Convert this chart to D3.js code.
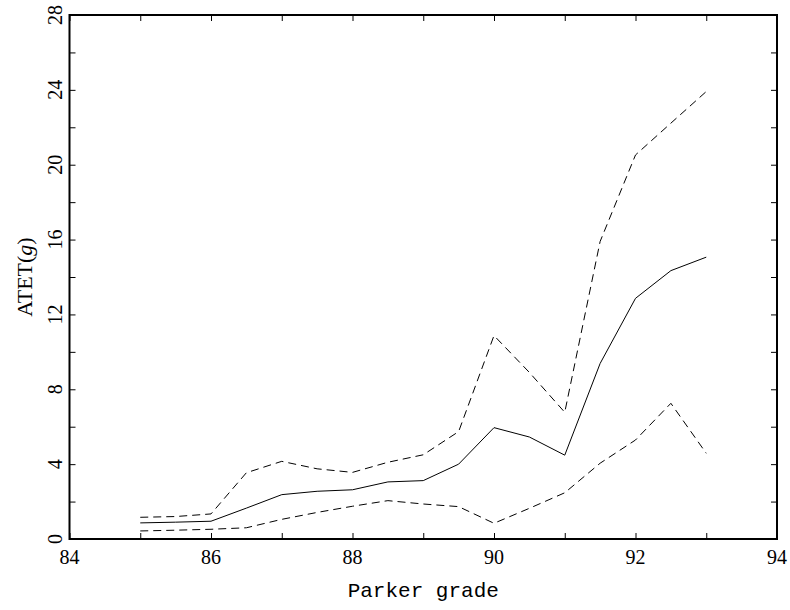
<!DOCTYPE html>
<html>
<head>
<meta charset="utf-8">
<script src="https://cdn.jsdelivr.net/npm/d3@7"></script>
<style>
  html, body { margin: 0; padding: 0; background: #fff; }
  svg { display: block; }
</style>
</head>
<body>
<svg id="chart" width="790" height="610"></svg>
<script>
// ---- data ----
const grades = [85, 85.5, 86, 86.5, 87, 87.5, 88, 88.5, 89, 89.5, 90, 90.5, 91, 91.5, 92, 92.5, 93];
const atet   = [0.86, 0.9, 0.95, 1.65, 2.37, 2.55, 2.63, 3.05, 3.12, 4.0, 5.95, 5.45, 4.48, 9.38, 12.86, 14.34, 15.06];
const upper  = [1.16, 1.2, 1.34, 3.54, 4.15, 3.75, 3.56, 4.1, 4.5, 5.74, 10.87, 8.9, 6.77, 15.9, 20.52, 22.22, 23.91];
const lower  = [0.43, 0.47, 0.52, 0.6, 1.05, 1.42, 1.75, 2.05, 1.87, 1.73, 0.84, 1.64, 2.47, 4.05, 5.29, 7.25, 4.58];
const xTickLabels = [84, 86, 88, 90, 92, 94];
const yTickLabels = [0, 4, 8, 12, 16, 20, 24, 28];
const xLabel = "Parker grade";
const yLabelMain = "ATET(";
const yLabelItal = "g";
const yLabelEnd = ")";

// ---- layout ----
const svg = d3.select("#chart");
const L = 69.5, R = 777, T = 15, B = 539;
const x = d3.scaleLinear().domain([84, 94]).range([L, R]);
const y = d3.scaleLinear().domain([0, 28]).range([B, T]);
const font = "'Liberation Serif', 'DejaVu Serif', serif";

// lines
const line = (vals) => d3.line().x((d, i) => x(grades[i])).y(d => y(d))(vals);
svg.append("path").attr("d", line(upper)).attr("fill", "none")
  .attr("stroke", "#000").attr("stroke-width", 1).attr("stroke-dasharray", "8,5");
svg.append("path").attr("d", line(lower)).attr("fill", "none")
  .attr("stroke", "#000").attr("stroke-width", 1).attr("stroke-dasharray", "8,5");
svg.append("path").attr("d", line(atet)).attr("fill", "none")
  .attr("stroke", "#000").attr("stroke-width", 1);

// axes (ticks inward)
const xMinor = d3.range(84, 95, 1);
const yMinor = d3.range(0, 29, 2);

const gBottom = svg.append("g").attr("transform", `translate(0,${B})`)
  .call(d3.axisTop(x).tickValues(xMinor).tickSize(6).tickFormat(""));
const gTop = svg.append("g").attr("transform", `translate(0,${T})`)
  .call(d3.axisBottom(x).tickValues(xMinor).tickSize(6).tickFormat(""));
const gLeft = svg.append("g").attr("transform", `translate(${L},0)`)
  .call(d3.axisRight(y).tickValues(yMinor).tickSize(6).tickFormat(""));
const gRight = svg.append("g").attr("transform", `translate(${R},0)`)
  .call(d3.axisLeft(y).tickValues(yMinor).tickSize(6).tickFormat(""));
[gBottom, gTop, gLeft, gRight].forEach(g => {
  g.select(".domain").remove();
  g.selectAll(".tick line").attr("stroke", "#000").attr("stroke-width", 1);
});

// frame
svg.append("rect").attr("x", L).attr("y", T).attr("width", R - L).attr("height", B - T)
  .attr("fill", "none").attr("stroke", "#000").attr("stroke-width", 2);

// x tick labels
svg.append("g").selectAll("text").data(xTickLabels).join("text")
  .attr("x", d => x(d)).attr("y", 564)
  .attr("text-anchor", "middle")
  .attr("font-family", font).attr("font-size", 20)
  .text(d => d);

// y tick labels (rotated)
svg.append("g").selectAll("text").data(yTickLabels).join("text")
  .attr("transform", d => `translate(62,${y(d)}) rotate(-90)`)
  .attr("text-anchor", "middle")
  .attr("font-family", font).attr("font-size", 20)
  .text(d => d);

// axis titles
svg.append("text").attr("x", (L + R) / 2).attr("y", 597).attr("text-anchor", "middle")
  .attr("font-family", "'Liberation Mono', 'DejaVu Sans Mono', monospace")
  .attr("font-size", 21)
  .text(xLabel);

const yl = svg.append("text")
  .attr("transform", `translate(32,${(T + B) / 2}) rotate(-90)`)
  .attr("text-anchor", "middle")
  .attr("font-family", font).attr("font-size", 22);
yl.append("tspan").text(yLabelMain);
yl.append("tspan").attr("font-style", "italic").text(yLabelItal);
yl.append("tspan").text(yLabelEnd);
</script>
</body>
</html>
